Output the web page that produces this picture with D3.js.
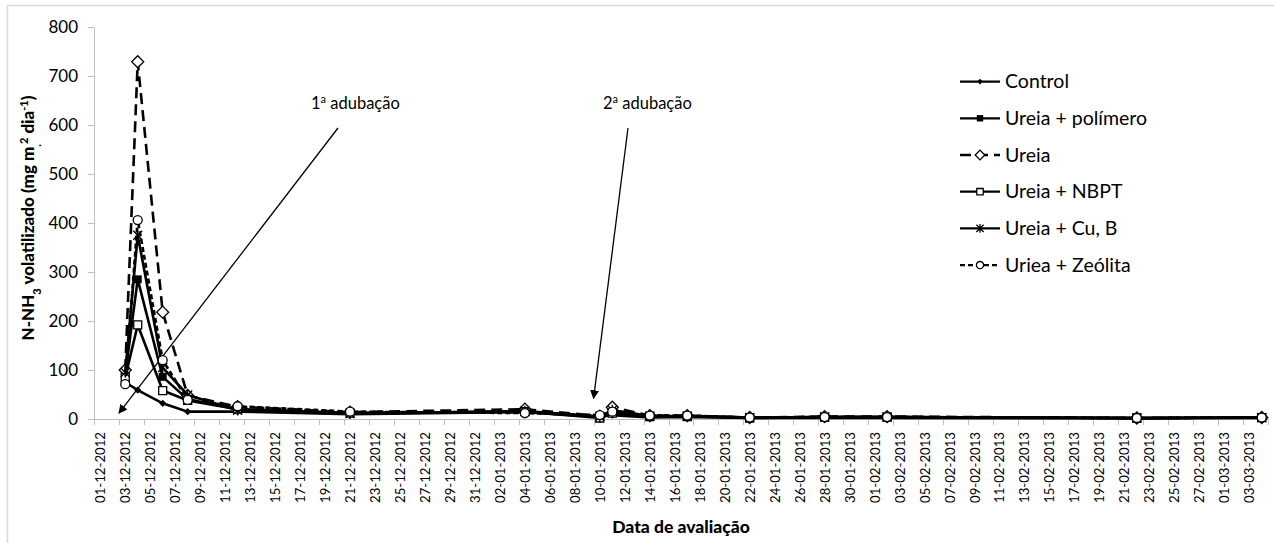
<!doctype html>
<html lang="pt">
<head>
  <meta charset="UTF-8">
  <title>N-NH3 volatilizado</title>
  <script src="https://cdn.jsdelivr.net/npm/d3@7"></script>
  <style>
    body { margin: 0; background: #fff; }
    svg { display: block; font-family: Lato, "Open Sans", sans-serif; }
  </style>
</head>
<body>
  <svg id="chart" width="1274" height="543"></svg>
  <script>
    // datas de avaliação
    const dates = ["03-12-2012", "04-12-2012", "06-12-2012", "08-12-2012", "12-12-2012", "21-12-2012",
      "04-01-2013", "10-01-2013", "11-01-2013", "14-01-2013", "17-01-2013", "22-01-2013",
      "28-01-2013", "02-02-2013", "22-02-2013", "04-03-2013"]

    const control   = [75, 59, 32, 15, 15, 10, 14, 4, 8, 3, 4, 2, 2, 2, 1, 2]
    const polimero  = [90, 285, 86, 40, 20, 12, 15, 5, 12, 5, 6, 3, 4, 4, 2, 3]
    const ureia     = [100, 729, 218, 48, 25, 14, 20, 6, 24, 7, 7, 3, 5, 5, 2, 3]
    const nbpt      = [85, 192, 58, 38, 20, 12, 15, 2, 12, 5, 5, 2, 4, 4, 2, 3]
    const cuB       = [95, 375, 105, 49, 18, 11, 16, 5, 18, 6, 6, 3, 4, 4, 2, 3]
    const zeolita   = [71, 406, 120, 39, 26, 15, 12, 8, 15, 7, 7, 3, 4, 4, 2, 3]

    const yTicks = [0, 100, 200, 300, 400, 500, 600, 700, 800]

    const parseDate = d3.utcParse("%d-%m-%Y")
    const fmt = d3.utcFormat("%d-%m-%Y")

    const series = [
      { name: "Control", values: control, dash: null, mark: "fdiamond" },
      { name: "Ureia + polímero", values: polimero, dash: null, mark: "fsquare" },
      { name: "Ureia", values: ureia, dash: "11,6", mark: "odiamond" },
      { name: "Ureia + NBPT", values: nbpt, dash: null, mark: "osquare" },
      { name: "Ureia + Cu, B", values: cuB, dash: null, mark: "star" },
      { name: "Uriea + Zeólita", values: zeolita, dash: "5,3", mark: "circle" }
    ]

    const svg = d3.select("#chart")
    const half = 12 * 3600 * 1000

    // moldura
    svg.append("path").attr("d", "M7.5,545V5.5H1280")
      .attr("fill", "none").attr("stroke", "#d9d9d9").attr("stroke-width", 1.5)

    const start = parseDate("01-12-2012"), end = parseDate("05-03-2013")
    const x = d3.scaleUtc().domain([start, end]).range([94, 1268])
    const y = d3.scaleLinear().domain([0, 800]).range([419, 27])

    // eixo y
    const yAxis = svg.append("g").attr("transform", "translate(94,0)")
      .call(d3.axisLeft(y).tickValues(yTicks).tickSize(6).tickPadding(10))
    yAxis.select(".domain").attr("stroke", "#bfbfbf")
    yAxis.selectAll(".tick line").attr("stroke", "#bfbfbf")
    yAxis.selectAll("text").attr("font-size", 17).attr("fill", "#000").attr("font-family", "Lato")

    // eixo x: marcas a cada 2 dias, rótulos no centro do dia
    const tickDates = d3.utcDay.range(start, end, 2)
    const xAxis = svg.append("g")
    xAxis.append("line").attr("x1", 94).attr("x2", 1268).attr("y1", 419.5).attr("y2", 419.5)
      .attr("stroke", "#bfbfbf")
    xAxis.selectAll("line.tk").data(tickDates.concat([end])).join("line").attr("class", "tk")
      .attr("x1", d => Math.round(x(d)) + 0.5).attr("x2", d => Math.round(x(d)) + 0.5)
      .attr("y1", 419).attr("y2", 425).attr("stroke", "#bfbfbf")
    xAxis.selectAll("text").data(tickDates).join("text")
      .attr("transform", d => `translate(${x(new Date(+d + half)) + 5},432) rotate(-90)`)
      .attr("text-anchor", "end").attr("font-size", 13.2).text(d => fmt(d))

    // títulos
    svg.append("text").attr("x", 681).attr("y", 533).attr("text-anchor", "middle")
      .attr("font-size", 17.5).attr("font-weight", "900").text("Data de avaliação")
    const yt = svg.append("text").attr("transform", "translate(34,218) rotate(-90)")
      .attr("text-anchor", "middle").attr("font-size", 17).attr("font-weight", "900")
    yt.append("tspan").text("N-NH")
    yt.append("tspan").attr("baseline-shift", "sub").attr("font-size", 11).text("3")
    yt.append("tspan").text(" volatilizado (mg m")
    yt.append("tspan").attr("baseline-shift", "sub").attr("font-size", 11).text(".")
    yt.append("tspan").attr("baseline-shift", "super").attr("font-size", 11).text("2")
    yt.append("tspan").text(" dia")
    yt.append("tspan").attr("baseline-shift", "super").attr("font-size", 11).text("-1")
    yt.append("tspan").text(")")

    // anotações
    svg.append("defs").append("marker").attr("id", "arr")
      .attr("viewBox", "0 0 10 10").attr("refX", 9).attr("refY", 5)
      .attr("markerWidth", 7).attr("markerHeight", 7).attr("orient", "auto")
      .append("path").attr("d", "M0,0L10,5L0,10Z").attr("fill", "#000")
    const notes = [
      { label: "1", tx: 311, x1: 338, y1: 128, date: "03-12-2012", yv: 12 },
      { label: "2", tx: 603, x1: 628, y1: 128, date: "10-01-2013", yv: 42 }
    ]
    notes.forEach(n => {
      const t = svg.append("text").attr("x", n.tx).attr("y", 109).attr("font-size", 16.5)
      t.append("tspan").text(n.label)
      t.append("tspan").attr("baseline-shift", "super").attr("font-size", 11).text("a")
      t.append("tspan").text(" adubação")
      svg.append("line").attr("x1", n.x1).attr("y1", n.y1)
        .attr("x2", x(parseDate(n.date))).attr("y2", y(n.yv))
        .attr("stroke", "#000").attr("stroke-width", 1.3).attr("marker-end", "url(#arr)")
    })

    function drawMark(g, kind, k) {
      if (kind === "fdiamond") {
        g.append("path").attr("d", d3.symbol(d3.symbolSquare, 26 * k * k)()).attr("transform", "rotate(45)")
          .attr("fill", "#000")
      } else if (kind === "fsquare") {
        g.append("path").attr("d", d3.symbol(d3.symbolSquare, 64 * k * k)()).attr("fill", "#000")
      } else if (kind === "odiamond") {
        g.append("path").attr("d", d3.symbol(d3.symbolSquare, 72 * k * k)()).attr("transform", "rotate(45)")
          .attr("fill", "#fff").attr("stroke", "#000").attr("stroke-width", 1.3)
      } else if (kind === "osquare") {
        g.append("path").attr("d", d3.symbol(d3.symbolSquare, 64 * k * k)())
          .attr("fill", "#fff").attr("stroke", "#000").attr("stroke-width", 1.3)
      } else if (kind === "star") {
        const r = 4.5 * k
        g.append("path").attr("d", `M${-r},${-r}L${r},${r}M${-r},${r}L${r},${-r}M0,${-r * 1.2}V${r * 1.2}`)
          .attr("stroke", "#000").attr("stroke-width", 1.3)
      } else {
        g.append("circle").attr("r", 4.5 * k)
          .attr("fill", "#fff").attr("stroke", "#000").attr("stroke-width", 1.3)
      }
    }

    const line = d3.line()
      .x((d, i) => x(new Date(+parseDate(dates[i]) + half)))
      .y(d => y(d))

    series.forEach(s => {
      svg.append("path").datum(s.values).attr("d", line)
        .attr("fill", "none").attr("stroke", "#000").attr("stroke-width", 2.6)
        .attr("stroke-dasharray", s.dash)
      s.values.forEach((v, i) => {
        const g = svg.append("g")
          .attr("transform", `translate(${x(new Date(+parseDate(dates[i]) + half))},${y(v)})`)
        drawMark(g, s.mark, 1)
      })
    })

    // legenda
    const leg = svg.append("g")
    series.forEach((s, i) => {
      const ly = 81.6 + i * 36.7
      leg.append("line").attr("x1", 960).attr("x2", 1000).attr("y1", ly).attr("y2", ly)
        .attr("stroke", "#000").attr("stroke-width", 2.3).attr("stroke-dasharray", s.dash)
      drawMark(leg.append("g").attr("transform", `translate(980,${ly})`), s.mark, 0.8)
      leg.append("text").attr("x", 1005).attr("y", ly + 6.5).attr("font-size", 19.5).text(s.name)
    })
  </script>
</body>
</html>
